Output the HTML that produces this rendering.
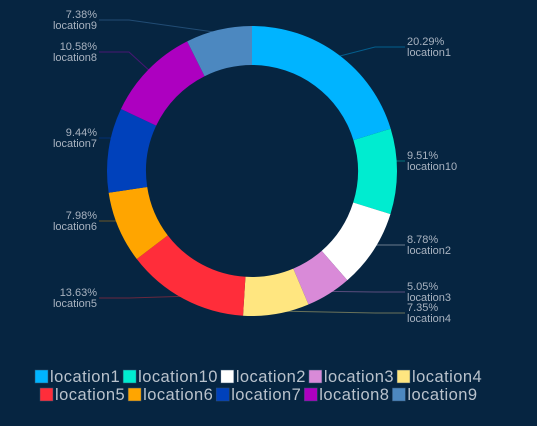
<!DOCTYPE html>
<html><head><meta charset="utf-8"><style>
html,body{margin:0;padding:0;background:#062541;}
body{width:537px;height:421px;overflow:hidden;font-family:"Liberation Sans",sans-serif;}
svg text{font-family:"Liberation Sans",sans-serif;}
</style></head><body>
<svg id="chart" width="537" height="421"></svg>
<script>
const categories=["location1","location10","location2","location3","location4","location5","location6","location7","location8","location9"];
const values=[20.29,9.51,8.78,5.05,7.35,13.63,7.98,9.44,10.58,7.38];
const colors=["#00b4ff","#00ecd0","#ffffff","#d98ad8","#ffe680","#ff2d3a","#ffa500","#0041bb","#ad00c0","#4c88c0"];
const labelY=[47,161,245,292,313,298,221,138,52,20];
const NS="http://www.w3.org/2000/svg";
const svg=document.getElementById('chart');
const cx=252,cy=171,R=145,r0=106;
function mk(t,a){const e=document.createElementNS(NS,t);for(const k in a)e.setAttribute(k,a[k]);return e;}
function pt(rad,a){return [cx+rad*Math.sin(a),cy-rad*Math.cos(a)];}
const total=values.reduce((s,v)=>s+v,0);
let acc=0;
values.forEach((v,i)=>{
  const a0=acc/total*2*Math.PI; acc+=v; const a1=acc/total*2*Math.PI;
  const [x1,y1]=pt(R,a0),[x2,y2]=pt(R,a1),[x3,y3]=pt(r0,a1),[x4,y4]=pt(r0,a0);
  const lg=(a1-a0)>Math.PI?1:0;
  const p=mk('path',{d:`M${x1},${y1}A${R},${R} 0 ${lg} 1 ${x2},${y2}L${x3},${y3}A${r0},${r0} 0 ${lg} 0 ${x4},${y4}Z`,fill:colors[i]});
  
  
  svg.appendChild(p);
  const am=(a0+a1)/2; const right=Math.sin(am)>=0;
  const [sx,sy]=pt(R-3,am);
  const lx=right?405:99, ly=labelY[i];
  const l=mk('polyline',{points:`${sx},${sy} ${right?lx-30:lx+30},${ly} ${lx},${ly}`,fill:'none',stroke:colors[i],'stroke-opacity':0.4,'stroke-width':1});
  
  
  svg.insertBefore(l,svg.firstChild);
  const anchor=right?'start':'end', tx=right?lx+2:lx-2;
  const t1=mk('text',{x:tx,y:ly-2,'font-size':11,fill:'#a9b3c0','text-anchor':anchor});
  t1.textContent=v.toFixed(2)+'%';
  
  
  svg.appendChild(t1);
  const t2=mk('text',{x:tx,y:ly+9,'font-size':11,fill:'#a9b3c0','text-anchor':anchor});
  t2.textContent=categories[i];
  
  
  svg.appendChild(t2);
});
const rows=[[0,1,2,3,4],[5,6,7,8,9]];
const rowX=[35,40],rowY=[377,395];
const FS=16.5, LS=0.45;
const ctx=document.createElement('canvas').getContext('2d');ctx.font=FS+'px "Liberation Sans"';
rows.forEach((row,ri)=>{
  let x=rowX[ri];
  row.forEach(i=>{
    const g=mk('g',{});
    
    
    g.appendChild(mk('rect',{x:x,y:rowY[ri]-7,width:13,height:13,fill:colors[i],stroke:'#33506e','stroke-width':0.5}));
    const t=mk('text',{x:x+15,y:rowY[ri]+5,'font-size':FS,fill:'#b9c2cc','letter-spacing':LS});
    t.textContent=categories[i];
    g.appendChild(t);
    svg.appendChild(g);
    x+=15+ctx.measureText(categories[i]).width+LS*categories[i].length+3;
  });
});
</script>
</body></html>
